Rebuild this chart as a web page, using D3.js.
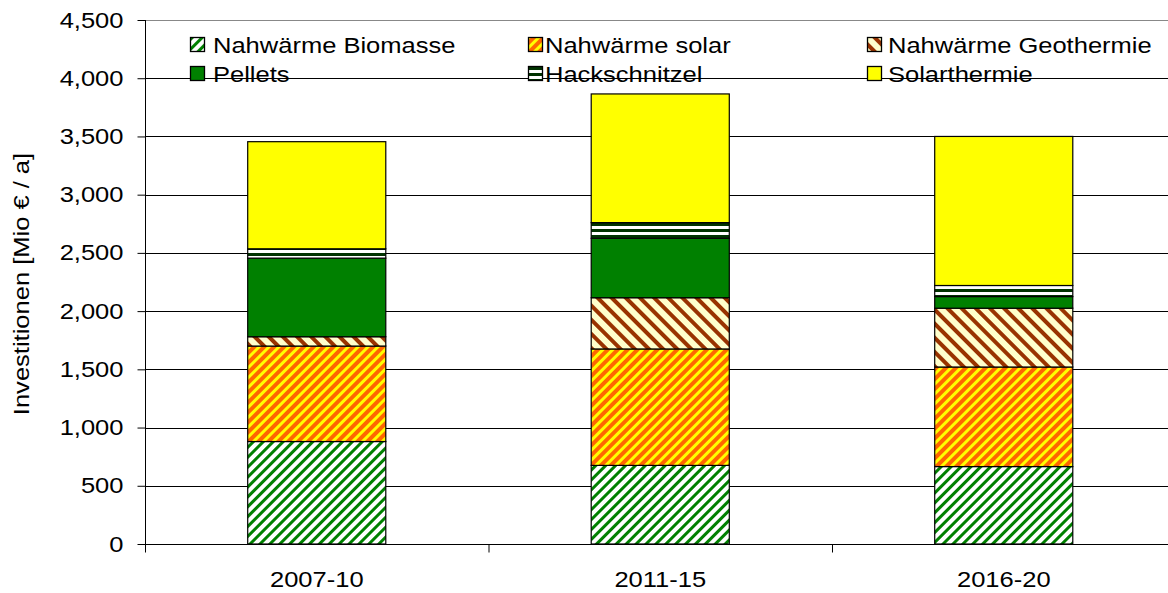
<!DOCTYPE html>
<html>
<head>
<meta charset="utf-8">
<script src="https://cdn.jsdelivr.net/npm/d3@7"></script>
<style>
  html, body { margin: 0; padding: 0; background: #fff; }
  svg { display: block; font-family: Arial, "Liberation Sans", sans-serif; }
</style>
</head>
<body>
<svg id="chart" width="1168" height="593"></svg>
<script>
// Investment periods
const categories = ["2007-10", "2011-15", "2016-20"];

// Stacked series (Mio € / a), bottom to top
const nahwaermeBiomasse   = [880, 675, 665];
const nahwaermeSolar      = [820, 1000, 855];
const nahwaermeGeothermie = [80, 440, 505];
const pellets             = [675, 510, 100];
const hackschnitzel       = [80, 135, 95];
const solarthermie        = [920, 1105, 1280];

const seriesNames = ["Nahwärme Biomasse", "Nahwärme solar", "Nahwärme Geothermie",
                     "Pellets", "Hackschnitzel", "Solarthermie"];
const seriesValues = [nahwaermeBiomasse, nahwaermeSolar, nahwaermeGeothermie,
                      pellets, hackschnitzel, solarthermie];

const yTicks = [0, 500, 1000, 1500, 2000, 2500, 3000, 3500, 4000, 4500];

const svg = d3.select("#chart");
const plotLeft = 145, plotRight = 1175.5, plotTop = 20, plotBottom = 544;
const fontSize = 22;
const widen = 1.16;   // wide glyph advance, as in hinted Arial

// Fill patterns
const defs = svg.append("defs");
function diagPattern(id, bg, fg, size, lineW, angle) {
  const p = defs.append("pattern").attr("id", id)
    .attr("patternUnits", "userSpaceOnUse")
    .attr("width", size).attr("height", size)
    .attr("patternTransform", `rotate(${angle})`);
  p.append("rect").attr("width", size).attr("height", size).attr("fill", bg);
  p.append("rect").attr("x", 0).attr("width", lineW).attr("height", size).attr("fill", fg);
}
diagPattern("p-bio", "#ffffff", "#008000", 7, 3, 45);
diagPattern("p-sol", "#ff6600", "#ffff00", 7, 3, 45);
diagPattern("p-geo", "#ffffcc", "#993300", 10, 4, -45);
const hp = defs.append("pattern").attr("id", "p-hack")
  .attr("patternUnits", "userSpaceOnUse").attr("width", 6).attr("height", 6)
  .attr("y", 1);
hp.append("rect").attr("width", 6).attr("height", 6).attr("fill", "#ffffff");
hp.append("rect").attr("width", 6).attr("height", 3).attr("fill", "#003300");

const fills = ["url(#p-bio)", "url(#p-sol)", "url(#p-geo)", "#008000", "url(#p-hack)", "#ffff00"];

const x = d3.scaleBand().domain(categories).range([plotLeft, plotRight]).padding(0);
const y = d3.scaleLinear().domain([0, 4500]).range([plotBottom, plotTop]);
const barW = x.bandwidth() * 0.402;

// Gridlines
svg.append("g").selectAll("line").data(yTicks.filter(t => t > 0 && t < 4500)).join("line")
  .attr("x1", plotLeft).attr("x2", plotRight)
  .attr("y1", d => Math.round(y(d)) + 0.5).attr("y2", d => Math.round(y(d)) + 0.5)
  .attr("stroke", "#000").attr("stroke-width", 1);
// Plot top border
svg.append("line").attr("x1", plotLeft).attr("x2", plotRight)
  .attr("y1", Math.round(y(4500)) + 0.5).attr("y2", Math.round(y(4500)) + 0.5)
  .attr("stroke", "#888").attr("stroke-width", 1);

// Stacked bars
const table = categories.map((c, i) => {
  const row = { cat: c };
  seriesNames.forEach((n, j) => row[n] = seriesValues[j][i]);
  return row;
});
const stack = d3.stack().keys(seriesNames)(table);
const gBars = svg.append("g");
stack.forEach((layer, j) => {
  gBars.append("g").selectAll("rect").data(layer).join("rect")
    .attr("x", d => x(d.data.cat) + (x.bandwidth() - barW) / 2)
    .attr("y", d => y(d[1]))
    .attr("width", barW)
    .attr("height", d => y(d[0]) - y(d[1]))
    .attr("fill", fills[j])
    .attr("stroke", "#000").attr("stroke-width", 1.2);
});

// Y axis
const yAxis = d3.axisLeft(y).tickValues(yTicks).tickSize(8).tickPadding(13)
  .tickFormat(d3.format(",.0f"));
const gy = svg.append("g").attr("transform", `translate(${plotLeft + 0.5},0)`).call(yAxis);
gy.select(".domain").remove();
gy.append("line").attr("x1", 0).attr("x2", 0).attr("y1", plotTop).attr("y2", plotBottom + 8)
  .attr("stroke", "#000");
gy.selectAll(".tick line").attr("stroke", "#000");
gy.selectAll(".tick text")
  .attr("x", 0)
  .attr("transform", `translate(-22,0) scale(${widen},1)`)
  .attr("font-size", fontSize).attr("fill", "#000")
  .attr("font-family", "Arial, 'Liberation Sans', sans-serif");

// X axis
const gx = svg.append("g").attr("transform", `translate(0,${plotBottom + 0.5})`);
gx.append("line").attr("x1", plotLeft).attr("x2", plotRight).attr("stroke", "#000");
gx.selectAll("line.sep").data(categories).join("line").attr("class", "sep")
  .attr("x1", d => x(d) + 0.5).attr("x2", d => x(d) + 0.5)
  .attr("y1", 0).attr("y2", 8).attr("stroke", "#000");
gx.selectAll("text").data(categories).join("text")
  .attr("transform", d => `translate(${x(d) + x.bandwidth() / 2},42) scale(${widen},1)`)
  .attr("text-anchor", "middle")
  .attr("font-size", fontSize)
  .text(d => d);

// Y axis title
svg.append("text")
  .attr("transform", `translate(29,284) rotate(-90) scale(${widen},1)`)
  .attr("text-anchor", "middle")
  .attr("font-size", fontSize)
  .text("Investitionen [Mio € / a]");

// Legend: swatch x, text x, row baseline
const legendCols = [[190, 213], [528, 545], [867, 888]];
const legendRows = [53, 82];
const legend = svg.append("g");
seriesNames.forEach((n, j) => {
  const [sx, tx] = legendCols[j % 3];
  const by = legendRows[Math.floor(j / 3)];
  legend.append("rect").attr("x", sx + 0.5).attr("y", by - 15.5)
    .attr("width", 14).attr("height", 14)
    .attr("fill", fills[j]).attr("stroke", "#000").attr("stroke-width", 1.3);
  legend.append("text")
    .attr("transform", `translate(${tx},${by}) scale(${widen},1)`)
    .attr("font-size", fontSize).text(n);
});
</script>
</body>
</html>
